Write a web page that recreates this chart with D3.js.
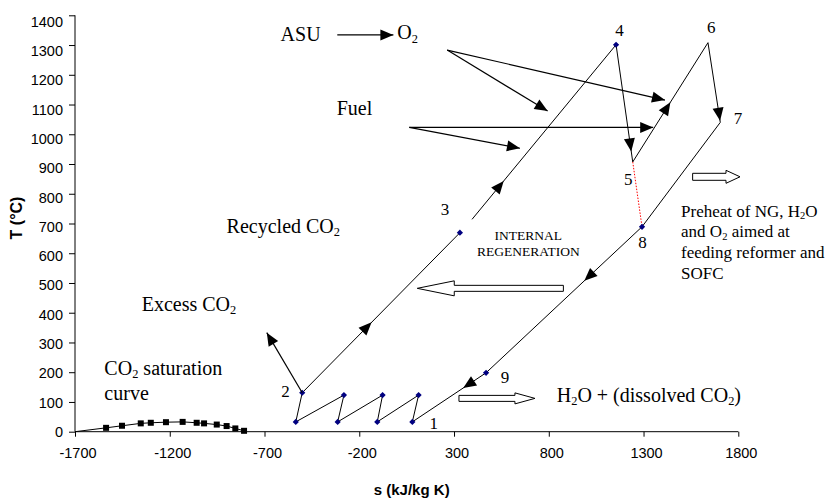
<!DOCTYPE html>
<html><head><meta charset="utf-8">
<script src="https://cdn.jsdelivr.net/npm/d3@7"></script>
<style>body{margin:0;background:#fff} svg{display:block}</style>
</head><body><svg id="c" width="826" height="498"></svg>
<script>
// ---------- data ----------
const sTicks = [-1700, -1200, -700, -200, 300, 800, 1300, 1800];
const tTicks = [0, 100, 200, 300, 400, 500, 600, 700, 800, 900, 1000, 1100, 1200, 1300, 1400];

// CO2 saturation curve (first point = start of line, no marker)
const satS = [-1700, -1536, -1452, -1353, -1300, -1220, -1132, -1058, -1019, -952, -900, -854, -808];
const satT = [0, 13, 20, 28, 30, 32, 33, 30, 28, 24, 19, 11, 3];

// Intercooled compression 1 -> 2 and heating 2 -> 3
const compS = [80, 113, -105, -77, -314, -281, -535, -501, 331];
const compT = [33, 123, 33, 123, 33, 123, 33, 131, 669];
// 3 -> 4 -> 5 -> 6 -> 7 -> 8 -> 9 -> 1
const loopS = [395, 1155, 1243, 1640, 1705, 1292, 469, 80];
const loopT = [714, 1301, 907, 1308, 1040, 689, 198, 33];
// state points with a marker
const markS = [80, 113, -105, -77, -314, -281, -535, -501, 331, 1155, 1292, 469];
const markT = [33, 123, 33, 123, 33, 123, 33, 131, 669, 1301, 689, 198];
// dotted link 5 - 8
const linkS = [1243, 1292];
const linkT = [907, 689];

// state labels
const ptLabels = ["1", "2", "3", "4", "5", "6", "7", "8", "9"];
const ptLabS = [193, -589, 252, 1173, 1219, 1657, 1798, 1294, 569];
const ptLabT = [8, 118, 729, 1330, 829, 1342, 1035, 617, 165];

// flow-direction arrows: segment start, end, fraction along it
const flowFromS = [-501, 395, 1155, 1243, 1640, 1292, 469];
const flowFromT = [131, 714, 1301, 907, 1308, 689, 198];
const flowToS   = [331, 1155, 1243, 1640, 1705, 469, 80];
const flowToT   = [669, 1301, 907, 1308, 1040, 198, 33];
const flowFrac  = [0.44, 0.22, 0.91, 0.5, 0.98, 0.37, 0.31];

// annotation arrows
const annFromS = [-316, 264, 264, 64, 64, -501];
const annFromT = [1334, 1283, 1283, 1023, 1023, 131];
const annToS   = [-20, 794, 1413, 1351, 648, -688];
const annToT   = [1334, 1078, 1115, 1023, 953, 333];

// hollow block arrows
const blockFromS = [877, 1559, 326];
const blockToS   = [106, 1809, 727];
const blockT     = [482, 857, 112];

// annotation texts ({..} = subscript)
const annTexts = ["ASU", "O{2}", "Fuel", "Recycled CO{2}", "Excess CO{2}", "CO{2} saturation", "curve",
  "H{2}O + (dissolved CO{2})", "Preheat of NG, H{2}O", "and O{2} aimed at", "feeding reformer and", "SOFC"];
const annTextS = [-615, 0, -319, -900, -1348, -1545, -1545, 842, 1498, 1498, 1498, 1498];
const annTextT = [1314, 1319, 1065, 669, 407, 190, 107, 101, 723, 653, 584, 513];
const regenTexts = ["INTERNAL", "REGENERATION"];
const regenS = [692, 692];
const regenT = [645, 591];

// ---------- styles ----------
const serif = "'Times New Roman', 'Liberation Serif', serif";
const sans = "Arial, 'Liberation Sans', sans-serif";
const annSizes = [20, 20, 20, 20, 20, 20, 20, 20, 17, 17, 17, 17];
const blockStyle = [{headLen: 37, shaftH: 6, headH: 15}, {headLen: 14, shaftH: 7, headH: 13}, {headLen: 20, shaftH: 6, headH: 11}];

const svg = d3.select("#c");
const x = d3.scaleLinear().domain([-1700, 1800]).range([75, 738.3]);
const y = d3.scaleLinear().domain([0, 1400]).range([431.7, 15.3]);

// ---------- axes ----------
const fmt = d => String(d);
const gx = svg.append("g").attr("transform", `translate(0,${y(0)})`)
  .call(d3.axisBottom(x).tickValues(sTicks).tickSize(5).tickPadding(10.6).tickFormat(fmt));
gx.selectAll("text").attr("font-family", sans).attr("font-size", 14.5).attr("fill", "#000").attr("x", 2.5);
const gy = svg.append("g").attr("transform", `translate(${x(-1700)},0)`)
  .call(d3.axisLeft(y).tickValues(tTicks).tickSize(6).tickPadding(6).tickFormat(fmt));
gy.selectAll("text").attr("font-family", sans).attr("font-size", 14.5).attr("fill", "#000")
  .attr("y", d => 6.4 * d / 1400);
svg.selectAll(".domain").attr("stroke", "#000").attr("stroke-width", 1);
svg.selectAll(".tick line").attr("stroke", "#000");
gx.select(".domain").attr("d", `M${x(-1700)},0H${x(1800)}`);
gy.select(".domain").attr("d", `M0,${y(1400)}V${y(0)}`);

svg.append("text").attr("font-family", sans).attr("font-weight", "bold").attr("font-size", 15)
  .attr("text-anchor", "middle").attr("x", 411.7).attr("y", 495).text("s (kJ/kg K)");
svg.append("text").attr("font-family", sans).attr("font-weight", "bold").attr("font-size", 16)
  .attr("text-anchor", "middle").attr("transform", "translate(22,218) rotate(-90)").text("T (°C)");

// ---------- helpers ----------
function richText(sel, str, fs) {
  const parts = str.split(/(\{[^}]*\})/).filter(p => p);
  let sub = false;
  parts.forEach(p => {
    if (p.startsWith("{")) {
      sel.append("tspan").attr("font-size", fs * 0.62).attr("dy", fs * 0.16).text(p.slice(1, -1));
      sub = true;
    } else {
      const t = sel.append("tspan").text(p);
      if (sub) { t.attr("dy", -fs * 0.16); sub = false; }
    }
  });
}
function arrowHead(g, x1, y1, x2, y2, len = 13, hw = 5.5) {
  const dx = x2 - x1, dy = y2 - y1, L = Math.hypot(dx, dy);
  const ux = dx / L, uy = dy / L, px = -uy, py = ux;
  const bx = x2 - ux * len, by = y2 - uy * len;
  g.append("polygon").attr("points",
    [[x2, y2], [bx + px * hw, by + py * hw], [bx - px * hw, by - py * hw]].map(p => p.join(",")).join(" "))
    .attr("fill", "#000");
}
const line = d3.line().x(d => x(d[0])).y(d => y(d[1]));

// ---------- saturation curve ----------
const sat = satS.map((s, i) => [s, satT[i]]);
svg.append("path").attr("d", line(sat)).attr("fill", "none").attr("stroke", "#000").attr("stroke-width", 1);
svg.selectAll(".sq").data(sat.slice(1)).join("rect")
  .attr("x", d => x(d[0]) - 3).attr("y", d => y(d[1]) - 3).attr("width", 6).attr("height", 6).attr("fill", "#000");

// ---------- cycle ----------
const comp = compS.map((s, i) => [s, compT[i]]);
const loop = loopS.map((s, i) => [s, loopT[i]]);
svg.append("path").attr("d", line(comp)).attr("fill", "none").attr("stroke", "#000").attr("stroke-width", 1);
svg.append("path").attr("d", line(loop)).attr("fill", "none").attr("stroke", "#000").attr("stroke-width", 1);
svg.append("path").attr("d", line(linkS.map((s, i) => [s, linkT[i]])))
  .attr("fill", "none").attr("stroke", "#ff0000").attr("stroke-width", 1).attr("stroke-dasharray", "1.5,1.5");

// flow arrows
const ga = svg.append("g");
flowFrac.forEach((f, i) => {
  const x1 = x(flowFromS[i]), y1 = y(flowFromT[i]), x2 = x(flowToS[i]), y2 = y(flowToT[i]);
  const tx = x1 + (x2 - x1) * f, ty = y1 + (y2 - y1) * f;
  arrowHead(ga, x1, y1, tx, ty, 13, 5.5);
});

// markers (small square diamonds)
svg.selectAll(".mk").data(markS.map((s, i) => [s, markT[i]])).join("rect")
  .attr("x", -2.2).attr("y", -2.2).attr("width", 4.4).attr("height", 4.4)
  .attr("transform", d => `translate(${x(d[0])},${y(d[1])}) rotate(45)`).attr("fill", "#000080");

// state labels
ptLabels.forEach((t, i) => {
  svg.append("text").attr("font-family", serif).attr("font-size", 17).attr("text-anchor", "middle")
    .attr("x", x(ptLabS[i])).attr("y", y(ptLabT[i])).text(t);
});

// annotation arrows
annFromS.forEach((s, i) => {
  const x1 = x(s), y1 = y(annFromT[i]), x2 = x(annToS[i]), y2 = y(annToT[i]);
  svg.append("line").attr("x1", x1).attr("y1", y1).attr("x2", x2).attr("y2", y2)
    .attr("stroke", "#000").attr("stroke-width", 1.2);
  arrowHead(svg, x1, y1, x2, y2, 13, 5.5);
});

// hollow block arrows
blockFromS.forEach((s, i) => {
  const st = blockStyle[i];
  const x0 = x(s), x1 = x(blockToS[i]), yc = y(blockT[i]);
  const dir = Math.sign(x1 - x0);
  const xb = x1 - dir * st.headLen;
  const pts = [[x0, yc - st.shaftH / 2], [xb, yc - st.shaftH / 2], [xb, yc - st.headH / 2], [x1, yc],
    [xb, yc + st.headH / 2], [xb, yc + st.shaftH / 2], [x0, yc + st.shaftH / 2]];
  svg.append("polygon").attr("points", pts.map(p => p.join(",")).join(" "))
    .attr("fill", "#fff").attr("stroke", "#000").attr("stroke-width", 1);
});

// texts
annTexts.forEach((t, i) => {
  const el = svg.append("text").attr("font-family", serif).attr("font-size", annSizes[i])
    .attr("x", x(annTextS[i])).attr("y", y(annTextT[i]));
  richText(el, t, annSizes[i]);
});
regenTexts.forEach((t, i) => {
  svg.append("text").attr("font-family", serif).attr("font-size", 13.5).attr("text-anchor", "middle")
    .attr("x", x(regenS[i])).attr("y", y(regenT[i])).text(t);
});
</script></body></html>
